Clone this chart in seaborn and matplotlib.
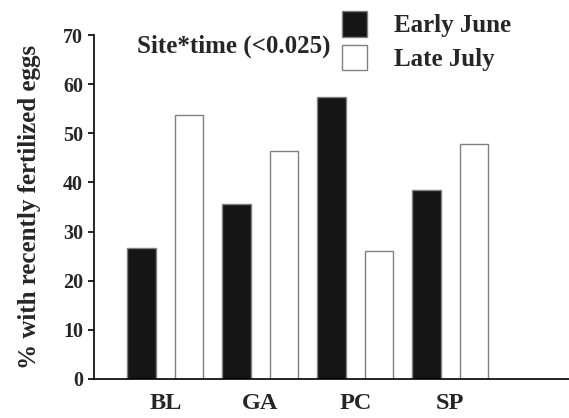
import pandas as pd
import matplotlib
matplotlib.use('Agg')
import matplotlib.pyplot as plt
import seaborn as sns
from matplotlib.patches import Patch

# Values
sites = ['BL', 'GA', 'PC', 'SP']
early_june = [26.7, 35.7, 57.4, 38.5]
late_july = [53.7, 46.3, 26.0, 47.8]
periods = ['Early June', 'Late July']
colors = ['#151515', 'white']

df = pd.DataFrame({
    'Site': sites * 2,
    'Period': [periods[0]] * len(sites) + [periods[1]] * len(sites),
    'Value': early_june + late_july,
})

sns.set_style('white')
plt.rcParams['font.family'] = ['Liberation Serif', 'DejaVu Serif']
plt.rcParams['font.weight'] = 'bold'

fig = plt.figure(figsize=(5.69, 4.18), dpi=100)
ax = fig.add_axes([94 / 569, 39 / 418, 475 / 569, 344 / 418])

sns.barplot(data=df, x='Site', y='Value', hue='Period', order=sites,
            hue_order=periods, palette=colors, width=1.0, gap=0.4,
            edgecolor='#808080', linewidth=1.0, legend=False, ax=ax)

ax.set_xlim(-0.75, 4.25)
ax.set_ylim(0, 70)
ax.set_yticks(range(0, 71, 10))
ax.set_xlabel('')
ax.set_ylabel('% with recently fertilized eggs', fontsize=18, fontweight='bold')
ax.yaxis.set_label_coords(-0.112, 0.5)

for side in ['top', 'right']:
    ax.spines[side].set_visible(False)
for side in ['left', 'bottom']:
    ax.spines[side].set_color('black')
    ax.spines[side].set_linewidth(1.2)

ax.tick_params(axis='y', direction='out', length=4, width=1.2, pad=4,
               labelsize=14.5, left=True, color='black')
ax.tick_params(axis='x', length=0, pad=10, labelsize=17.5)
for lbl in ax.get_xticklabels() + ax.get_yticklabels():
    lbl.set_fontweight('bold')

handles = [Patch(facecolor=c, edgecolor='#808080', linewidth=1.0) for c in colors]
fig.legend(handles, periods, loc='upper left',
           bbox_to_anchor=(342 / 569, 1 - 11 / 418), frameon=False,
           prop={'size': 18, 'weight': 'bold'}, handlelength=1.0,
           handleheight=1.2, handletextpad=1.1, labelspacing=0.3,
           borderpad=0, borderaxespad=0)

fig.text(137 / 569, 1 - 46 / 418, 'Site*time (<0.025)', fontsize=18,
         fontweight='bold', ha='left', va='center')

plt.savefig('out.png', dpi=100)
plt.close()
